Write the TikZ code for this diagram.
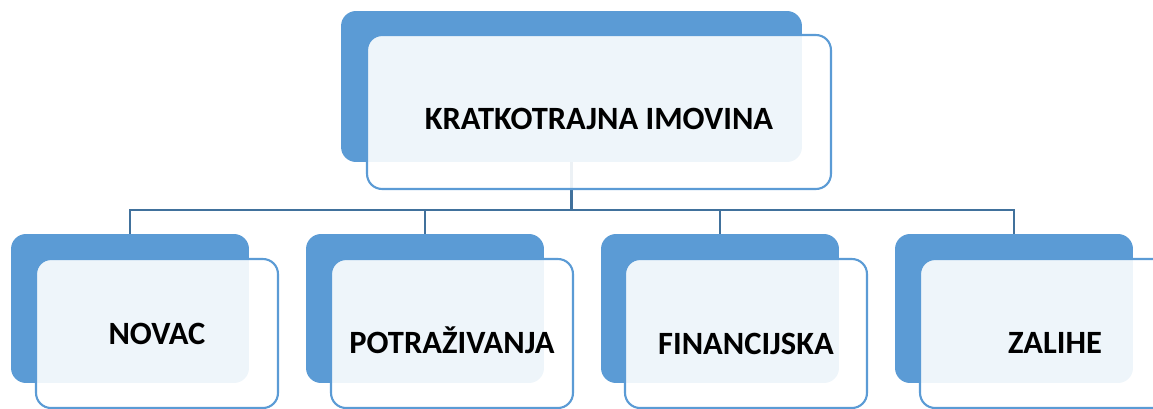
\documentclass[tikz,border=0pt]{standalone}
\usepackage{fontspec}
\setmainfont{Carlito}
\usetikzlibrary{positioning}
\definecolor{boxblue}{RGB}{91,155,213}
\definecolor{lineblue}{RGB}{65,113,156}

\begin{document}
\begin{tikzpicture}[x=0.02cm,y=-0.02cm,
		backbox/.style={fill=boxblue, draw=none, rounded corners=0.3cm, inner sep=0pt, minimum width=4.76cm, minimum height=2.98cm},
		frontbox/.style={draw=boxblue, line width=1.2pt, fill=white, fill opacity=0.9, text opacity=1, rounded corners=0.3cm, inner sep=0pt, minimum width=4.84cm, minimum height=2.98cm, font=\fontsize{18.5}{22}\selectfont\bfseries},
		link/.style={draw=lineblue, line width=1.2pt}]
				\useasboundingbox (0,0) rectangle (1153,409);
				\clip (0,0) rectangle (1153,409);
				\node[backbox, minimum width=9.22cm, minimum height=3.02cm] (topback) at (571.5,86.5) {};
				\node[backbox] (novacback) at (130,308.5) {};
				\node[backbox] (potrback) at (425,308.5) {};
				\node[backbox] (finback) at (720,308.5) {};
				\node[backbox] (zaliheback) at (1014,308.5) {};
				\draw[link] (topback.south) -- ++(0,48) -| (novacback.north);
				\draw[link] (topback.south) -- ++(0,48) -| (potrback.north);
				\draw[link] (topback.south) -- ++(0,48) -| (finback.north);
				\draw[link] (topback.south) -- ++(0,48) -| (zaliheback.north);
				\node[frontbox, minimum width=9.28cm, minimum height=3.08cm] (top) at (599,112) {\raisebox{-0.14cm}[\height][\depth]{KRATKOTRAJNA IMOVINA}};
				\node[frontbox] (novac) at (157,333.5) {NOVAC};
				\node[frontbox] (potr) at (452,333.5) {\raisebox{-0.14cm}[\height][\depth]{POTRAŽIVANJA}};
				\node[frontbox] (fin) at (746,333.5) {\raisebox{-0.2cm}[\height][\depth]{FINANCIJSKA}};
				\node[frontbox, minimum width=5.4cm] (zalihe) at (1055,333.5) {\raisebox{-0.18cm}[\height][\depth]{ZALIHE}};
			\end{tikzpicture}
\end{document}
